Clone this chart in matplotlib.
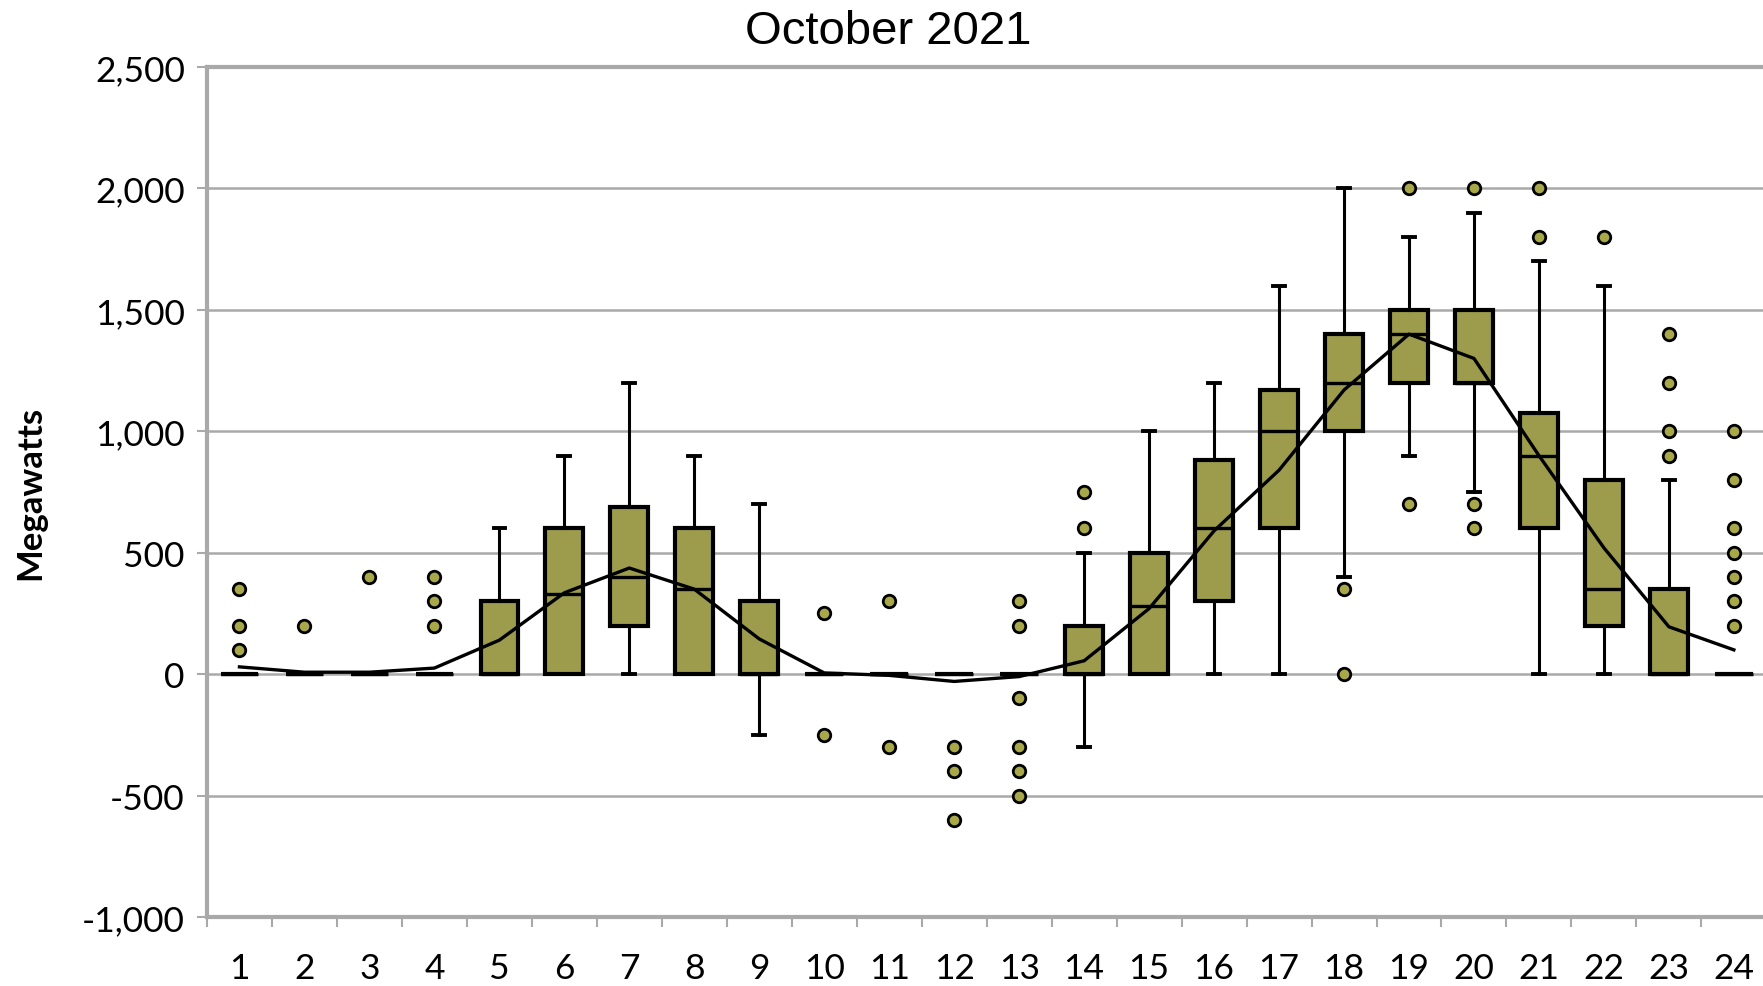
import matplotlib
matplotlib.use("Agg")
import matplotlib.pyplot as plt
from matplotlib.ticker import FuncFormatter, FixedLocator

# hourly distribution, October 2021 (MW)
hours = list(range(1, 25))
q1 = [0, 0, 0, 0, 0, 0, 200, 0, 0, 0, 0, 0, 0, 0, 0, 300, 600, 1000, 1200, 1200, 600, 200, 0, 0]
med = [0, 0, 0, 0, 0, 330, 400, 350, 0, 0, 0, 0, 0, 0, 280, 600, 1000, 1200, 1400, 1200, 900, 350, 0, 0]
q3 = [0, 0, 0, 0, 300, 600, 690, 600, 300, 0, 0, 0, 0, 200, 500, 880, 1170, 1400, 1500, 1500, 1075, 800, 350, 0]
whis_lo = [0, 0, 0, 0, 0, 0, 0, 0, -250, 0, 0, 0, 0, -300, 0, 0, 0, 400, 900, 750, 0, 0, 0, 0]
whis_hi = [0, 0, 0, 0, 600, 900, 1200, 900, 700, 0, 0, 0, 0, 500, 1000, 1200, 1600, 2000, 1800, 1900, 1700, 1600, 800, 0]
outliers = [
    [350, 200, 100], [200], [400], [400, 300, 200], [], [], [], [], [],
    [250, -250], [300, -300], [-300, -400, -600], [300, 200, -100, -300, -400, -500],
    [750, 600], [], [], [], [350, 0], [2000, 700], [2000, 700, 600],
    [2000, 1800], [1800], [1400, 1200, 1000, 900], [1000, 800, 600, 500, 400, 300, 200],
]
means = [30, 8, 8, 25, 140, 335, 437, 350, 145, 5, -5, -30, -10, 55, 270, 590, 840, 1170, 1400, 1300, 900, 520, 195, 100]

box_color = "#9C9C4C"
flier_color = "#A8A84A"
grid_color = "#A9A9A9"

plt.rcParams["font.family"] = ["Lato", "DejaVu Sans"]

fig = plt.figure(figsize=(17.63, 9.87), dpi=100)
ax = fig.add_axes([0.1174, 0.0699, 0.8845, 0.8612])

stats = []
for i in range(len(hours)):
    stats.append({
        "q1": q1[i], "med": med[i], "q3": q3[i],
        "whislo": whis_lo[i], "whishi": whis_hi[i],
        "fliers": outliers[i],
    })

ax.bxp(stats, positions=hours, widths=0.58, patch_artist=True, showfliers=True,
       boxprops=dict(facecolor=box_color, edgecolor="black", linewidth=3.0),
       medianprops=dict(color="black", linewidth=2.4),
       whiskerprops=dict(color="black", linewidth=2.2),
       capprops=dict(color="black", linewidth=2.8),
       capwidths=0.18,
       flierprops=dict(marker="o", markersize=9, markerfacecolor=flier_color,
                       markeredgecolor="black", markeredgewidth=2.0),
       zorder=3)

ax.plot(hours, means, color="black", linewidth=2.4, zorder=5)

ax.set_xlim(0.5, 24.5)
ax.set_ylim(-1000, 2500)
ax.set_yticks(range(-1000, 2501, 500))
ax.yaxis.set_major_formatter(FuncFormatter(lambda v, p: f"{int(v):,}"))
ax.set_xticks(hours)
ax.set_xticklabels([str(h) for h in hours])
ax.xaxis.set_minor_locator(FixedLocator([h - 0.5 for h in hours] + [24.5]))

ax.tick_params(axis="x", which="major", length=0, labelsize=25.5, pad=25)
ax.tick_params(axis="x", which="minor", length=7, width=1.5, color=grid_color, direction="out")
ax.tick_params(axis="y", length=7, width=1.5, color=grid_color, labelsize=25.5, pad=9)

ax.grid(axis="y", color=grid_color, linewidth=1.8, zorder=0)
ax.set_axisbelow(True)
for side in ["left", "bottom", "top"]:
    ax.spines[side].set_color(grid_color)
    ax.spines[side].set_linewidth(3)
ax.spines["right"].set_visible(False)

ax.set_ylabel("Megawatts", fontsize=25, fontweight="bold", labelpad=26)

fig.text(0.504, 0.968, "October 2021", ha="center", va="center",
         fontsize=34, family="Liberation Sans")

fig.savefig("out.png", dpi=100)
